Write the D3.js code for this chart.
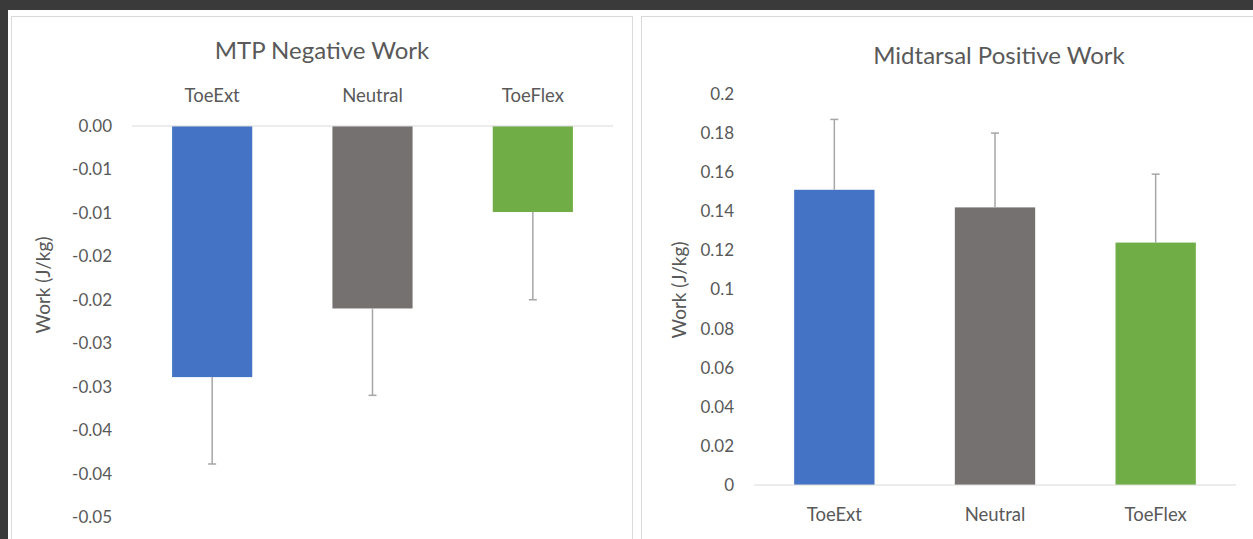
<!DOCTYPE html>
<html>
<head>
<meta charset="utf-8">
<script src="https://cdn.jsdelivr.net/npm/d3@7"></script>
<style>
  body { margin: 0; background: #3a3a3a; }
  svg { display: block; }
  text { font-family: Lato, "Open Sans", sans-serif; fill: #595959; }
</style>
</head>
<body>
<script>
// categories and colours shared by both charts
var categories = ["ToeExt", "Neutral", "ToeFlex"];
var barColors = ["#4472c4", "#767171", "#70ad47"];

// MTP negative work (mean, sd)
var mtpWork = [-0.0289, -0.0210, -0.0099];
var mtpSd = [0.0100, 0.0100, 0.0101];
var mtpTicks = [0, -0.005, -0.01, -0.015, -0.02, -0.025, -0.03, -0.035, -0.04, -0.045];
var mtpTickLabels = ["0.00", "-0.01", "-0.01", "-0.02", "-0.02", "-0.03", "-0.03", "-0.04", "-0.04", "-0.05"];

// midtarsal positive work (mean, sd)
var midWork = [0.151, 0.142, 0.124];
var midSd = [0.036, 0.038, 0.035];
var midTicks = [0, 0.02, 0.04, 0.06, 0.08, 0.1, 0.12, 0.14, 0.16, 0.18, 0.2];
var midTickLabels = ["0", "0.02", "0.04", "0.06", "0.08", "0.1", "0.12", "0.14", "0.16", "0.18", "0.2"];

var W = 1253, H = 539;

var svg = d3.select("body")
    .append("svg")
    .attr("width", W)
    .attr("height", H);

// white page behind the two chart panels
svg.append("rect")
    .attr("x", 8).attr("y", 10)
    .attr("width", W - 8).attr("height", H - 10)
    .attr("fill", "#ffffff");

function drawPanel(cfg) {
    var g = svg.append("g");

    // panel frame
    g.append("rect")
        .attr("x", cfg.box[0] + 0.5).attr("y", cfg.box[1] + 0.5)
        .attr("width", cfg.box[2]).attr("height", cfg.box[3])
        .attr("fill", "#ffffff")
        .attr("stroke", "#d9d9d9");

    var x = d3.scaleBand().domain(categories)
        .range([cfg.left, cfg.right]).paddingInner(0.5).paddingOuter(0.25);
    var band = d3.scaleBand().domain(categories).range([cfg.left, cfg.right]);
    var y = d3.scaleLinear().domain(cfg.domain).range(cfg.yRange);

    // y axis labels
    var yAxis = g.append("g")
        .attr("transform", "translate(" + cfg.left + ",0)")
        .call(d3.axisLeft(y).tickValues(cfg.ticks).tickSize(0).tickPadding(20)
            .tickFormat(function(d, i) { return cfg.tickLabels[i]; }));
    yAxis.select(".domain").remove();
    yAxis.selectAll("text")
        .attr("font-family", "Lato, 'Open Sans', sans-serif")
        .attr("font-size", 17)
        .attr("fill", "#595959");

    // bars
    g.selectAll(".bar")
        .data(cfg.values)
        .enter().append("rect")
        .attr("class", "bar")
        .attr("x", function(d, i) { return x(categories[i]); })
        .attr("y", function(d) { return Math.min(y(d), y(0)); })
        .attr("width", x.bandwidth())
        .attr("height", function(d) { return Math.abs(y(d) - y(0)); })
        .attr("fill", function(d, i) { return barColors[i]; });

    // zero line
    g.append("line")
        .attr("x1", cfg.left).attr("x2", cfg.right)
        .attr("y1", y(0)).attr("y2", y(0))
        .attr("stroke", "#d9d9d9").attr("stroke-width", 1.2);

    // one-sided error bars
    var err = g.selectAll(".err")
        .data(cfg.values)
        .enter().append("g")
        .attr("class", "err")
        .attr("stroke", "#a6a6a6")
        .attr("stroke-width", 1.5);
    err.append("line")
        .attr("x1", function(d, i) { return band(categories[i]) + band.bandwidth() / 2; })
        .attr("x2", function(d, i) { return band(categories[i]) + band.bandwidth() / 2; })
        .attr("y1", function(d) { return y(d); })
        .attr("y2", function(d, i) { return y(d + Math.sign(d) * cfg.sd[i]); });
    err.append("line")
        .attr("x1", function(d, i) { return band(categories[i]) + band.bandwidth() / 2 - 4; })
        .attr("x2", function(d, i) { return band(categories[i]) + band.bandwidth() / 2 + 4; })
        .attr("y1", function(d, i) { return y(d + Math.sign(d) * cfg.sd[i]); })
        .attr("y2", function(d, i) { return y(d + Math.sign(d) * cfg.sd[i]); });

    // category labels
    g.selectAll(".cat")
        .data(categories)
        .enter().append("text")
        .attr("class", "cat")
        .attr("x", function(d) { return band(d) + band.bandwidth() / 2; })
        .attr("y", cfg.catY)
        .attr("dy", "0.35em")
        .attr("text-anchor", "middle")
        .attr("font-size", 18.5)
        .text(function(d) { return d; });

    // title
    g.append("text")
        .attr("x", cfg.titleX).attr("y", cfg.titleY)
        .attr("dy", "0.35em")
        .attr("text-anchor", "middle")
        .attr("font-size", 24)
        .text(cfg.title);

    // y axis title
    g.append("text")
        .attr("transform", "translate(" + cfg.yTitleX + "," + cfg.yTitleY + ") rotate(-90)")
        .attr("dy", "0.35em")
        .attr("text-anchor", "middle")
        .attr("font-size", 19)
        .text("Work (J/kg)");
}

drawPanel({
    box: [11, 16, 621, 540],
    left: 132, right: 613,
    domain: [-0.045, 0], yRange: [517, 126],
    ticks: mtpTicks, tickLabels: mtpTickLabels,
    values: mtpWork, sd: mtpSd,
    catY: 96,
    title: "MTP Negative Work", titleX: 322, titleY: 51,
    yTitleX: 43, yTitleY: 285
});

drawPanel({
    box: [641, 16, 640, 540],
    left: 754, right: 1236,
    domain: [0, 0.2], yRange: [485, 94],
    ticks: midTicks, tickLabels: midTickLabels,
    values: midWork, sd: midSd,
    catY: 515,
    title: "Midtarsal Positive Work", titleX: 999, titleY: 56,
    yTitleX: 679, yTitleY: 290
});
</script>
</body>
</html>
